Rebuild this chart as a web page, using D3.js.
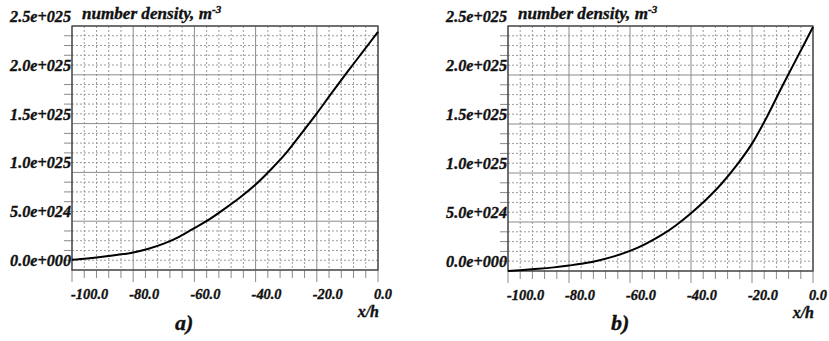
<!DOCTYPE html>
<meta charset="utf-8">
<style>
body{
  margin: 0;
  background: white;
}
svg{
  display: block;
}
svg text{
  font-family: "Liberation Serif", "Times New Roman", serif;
  font-weight: 700;
  font-style: italic;
  fill: #111;
  stroke: #111;
  stroke-width: 0.35px;
}
</style>
<body>
<div id="chart"></div>
<script src="https://cdnjs.cloudflare.com/ajax/libs/d3/7.8.5/d3.min.js"></script>
<script>
  var xPos = [-100, -95, -90, -85, -80, -75, -70, -65, -60, -55, -50,
              -45, -40, -35, -30, -25, -20, -15, -10, -5, 0]

  // number density, units of 1e24 m^-3
  var densityA = [1.06, 1.19, 1.36, 1.56, 1.8, 2.18, 2.7, 3.4, 4.3, 5.22, 6.3,
                  7.45, 8.75, 10.3, 12.0, 14.0, 16.05, 18.2, 20.3, 22.35, 24.4]
  var densityB = [0.0, 0.1, 0.22, 0.37, 0.56, 0.78, 1.1, 1.52, 2.05, 2.75, 3.6,
                  4.65, 5.9, 7.3, 8.9, 10.8, 13.0, 15.8, 18.9, 21.9, 24.9]

  var xTicks = [-100, -80, -60, -40, -20, 0]
  var xTickLabels = ['-100.0', '-80.0', '-60.0', '-40.0', '-20.0', '0.0']
  var yTicks = [0, 5, 10, 15, 20, 25]
  var yTickLabels = ['0.0e+000', '5.0e+024', '1.0e+025', '1.5e+025', '2.0e+025', '2.5e+025']
  var panelNames = ['a)', 'b)']

  var W = 829, H = 341

  var svg = d3.select('#chart').append('svg')
      .attr('width', W)
      .attr('height', H)

  // font size so that a sample string takes about the given width
  function fitSize(str, width){
    var t = svg.append('text').style('font-size', '20px').text(str)
    var w = t.node().getComputedTextLength()
    t.remove()
    return (20 * width / w).toFixed(2) + 'px'
  }
  var tickSize = fitSize('2.5e+025', 61)
  var xTickSize = fitSize('-80.0', 30)
  var titleSize = fitSize('number density, m', 130)

  function drawPanel(left, right, top, bottom, values, name){
    var x = d3.scaleLinear().domain([-100, 0]).range([left, right])
    var y = d3.scaleLinear().domain([0, 25]).range([bottom, top])

    var g = svg.append('g')

    var minorX = d3.range(-100, 0.1, 4)
    var minorY = d3.range(0, 25.1, 1)

    // dotted minor grid
    g.selectAll('.minx').data(minorX.filter(function(d){ return d % 20 != 0 }))
      .enter().append('line')
        .attr('x1', function(d){ return x(d) }).attr('x2', function(d){ return x(d) })
        .attr('y1', top).attr('y2', bottom)
        .style('stroke', '#9a9a9a').style('stroke-dasharray', '2,2').style('stroke-width', 1)
    g.selectAll('.miny').data(minorY.filter(function(d){ return d % 5 != 0 }))
      .enter().append('line')
        .attr('y1', function(d){ return y(d) }).attr('y2', function(d){ return y(d) })
        .attr('x1', left).attr('x2', right)
        .style('stroke', '#9a9a9a').style('stroke-dasharray', '2,2').style('stroke-width', 1)

    // solid major grid
    g.selectAll('.majx').data(xTicks)
      .enter().append('line')
        .attr('x1', function(d){ return x(d) }).attr('x2', function(d){ return x(d) })
        .attr('y1', top).attr('y2', bottom)
        .style('stroke', '#8a8a8a').style('stroke-width', 1)
    g.selectAll('.majy').data(yTicks)
      .enter().append('line')
        .attr('y1', function(d){ return y(d) }).attr('y2', function(d){ return y(d) })
        .attr('x1', left).attr('x2', right)
        .style('stroke', '#8a8a8a').style('stroke-width', 1)

    // outside ticks
    g.selectAll('.tickx').data(minorX)
      .enter().append('line')
        .attr('x1', function(d){ return x(d) }).attr('x2', function(d){ return x(d) })
        .attr('y1', bottom).attr('y2', function(d){ return bottom + (d % 20 == 0 ? 12 : 8) })
        .style('stroke', '#8a8a8a').style('stroke-width', 1)
    g.selectAll('.ticky').data(minorY.filter(function(d){ return d % 5 != 0 }))
      .enter().append('line')
        .attr('y1', function(d){ return y(d) }).attr('y2', function(d){ return y(d) })
        .attr('x1', left - 8).attr('x2', left)
        .style('stroke', '#8a8a8a').style('stroke-width', 1)

    // frame
    g.append('rect')
        .attr('x', left).attr('y', top)
        .attr('width', right - left).attr('height', bottom - top)
        .style('fill', 'none').style('stroke', '#444').style('stroke-width', 1.3)

    // curve
    var line = d3.line()
        .x(function(d, i){ return x(xPos[i]) })
        .y(function(d){ return y(d) })
        .curve(d3.curveMonotoneX)
    g.append('path')
        .datum(values)
        .attr('d', line)
        .style('fill', 'none').style('stroke', '#000').style('stroke-width', 2)

    // y labels
    g.selectAll('.ylab').data(yTicks)
      .enter().append('text')
        .attr('x', left - 1)
        .attr('y', function(d){ return y(d) - 4 })
        .attr('text-anchor', 'end')
        .style('font-size', tickSize)
        .text(function(d, i){ return yTickLabels[i] })

    // x labels
    g.selectAll('.xlab').data(xTicks)
      .enter().append('text')
        .attr('x', function(d){ return Math.max(left - 1, x(d) - 4) })
        .attr('y', bottom + 29)
        .style('font-size', xTickSize)
        .text(function(d, i){ return xTickLabels[i] })

    var title = g.append('text')
        .attr('x', left + 10)
        .attr('y', 19)
        .style('font-size', titleSize)
    title.append('tspan').text('number density, m')
    title.append('tspan').attr('dy', -6).style('font-size', '11px').text('-3')

    g.append('text')
        .attr('x', right + 1)
        .attr('y', bottom + 47)
        .attr('text-anchor', 'end')
        .style('font-size', '16px')
        .text('x/h')

    g.append('text')
        .attr('x', left + 103)
        .attr('y', 330)
        .style('font-size', '22px')
        .text(name)
  }

  drawPanel(72, 378, 26, 270, densityA, panelNames[0])
  drawPanel(508, 813, 26, 271, densityB, panelNames[1])
</script>
</body>
